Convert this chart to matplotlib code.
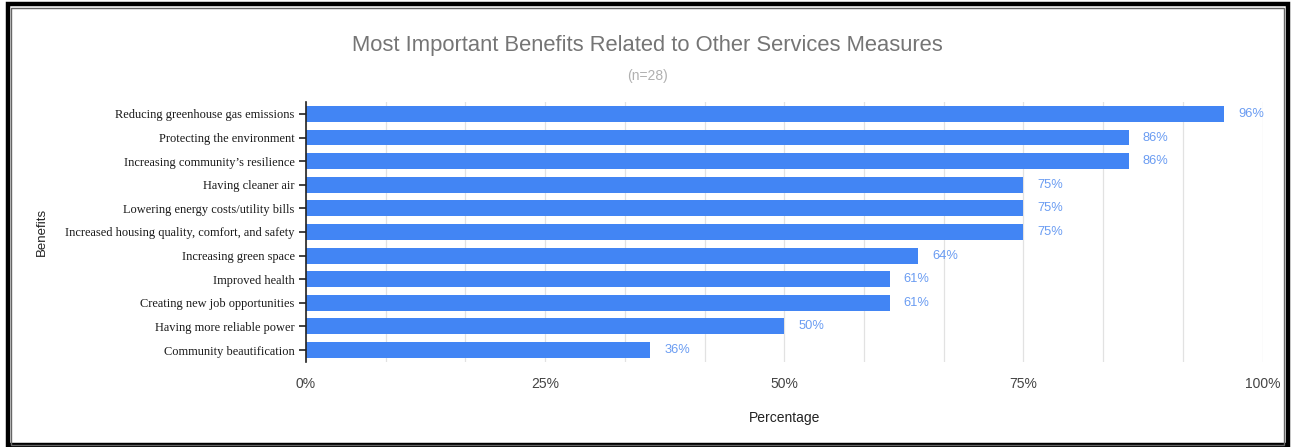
import matplotlib
matplotlib.use('Agg')
import matplotlib.pyplot as plt
from matplotlib.patches import Rectangle
from matplotlib.ticker import FixedLocator, FuncFormatter

# data
benefits = [
    "Reducing greenhouse gas emissions",
    "Protecting the environment",
    "Increasing community\u2019s resilience",
    "Having cleaner air",
    "Lowering energy costs/utility bills",
    "Increased housing quality, comfort, and safety",
    "Increasing green space",
    "Improved health",
    "Creating new job opportunities",
    "Having more reliable power",
    "Community beautification",
]
percent = [96, 86, 86, 75, 75, 75, 64, 61, 61, 50, 36]
x_ticks = [0, 25, 50, 75, 100]

bar_color = '#4285f4'
label_color = '#6a9cf2'

fig = plt.figure(figsize=(12.91, 4.47), dpi=100)
ax = fig.add_axes([0.237, 0.1906, 0.741, 0.5808])

y = list(range(len(benefits)))
ax.barh(y, percent, height=0.67, color=bar_color, zorder=3)
for yi, v in zip(y, percent):
    ax.annotate(f'{v}%', xy=(v, yi), xytext=(10, 0), textcoords='offset points',
                ha='left', va='center', fontsize=9.3, color=label_color,
                family='Liberation Sans')

ax.set_xlim(0, 100)
ax.set_ylim(len(benefits) - 0.5, -0.5)
ax.set_yticks(y)
ax.set_yticklabels(benefits, family='Liberation Serif', fontsize=8.9, color='#1a1a1a')
ax.xaxis.set_major_locator(FixedLocator(x_ticks))
ax.xaxis.set_major_formatter(FuncFormatter(lambda v, p: f'{v:.0f}%'))
ax.xaxis.set_minor_locator(FixedLocator([i * 100 / 12 for i in range(13)]))
for t in ax.get_xticklabels():
    t.set_family('Liberation Sans')
    t.set_fontsize(10)
    t.set_color('#444444')
ax.tick_params(axis='x', which='both', length=0, pad=11)
ax.tick_params(axis='y', direction='inout', length=10, width=1.2, color='#222222', pad=3)
ax.grid(axis='x', which='minor', color='#e2e2e2', linewidth=0.9, zorder=0)
ax.grid(axis='x', which='major', color='#e2e2e2', linewidth=0.9, zorder=0)

for s in ['top', 'right', 'bottom']:
    ax.spines[s].set_visible(False)
ax.spines['left'].set_color('#222222')
ax.spines['left'].set_linewidth(1.2)
ax.spines['left'].set_zorder(4)

ax.set_xlabel('Percentage', family='Liberation Sans', fontsize=10, color='#222222', labelpad=14)
ax.set_ylabel('Benefits', family='Liberation Sans', fontsize=9.5, color='#222222')
ax.yaxis.set_label_coords(-0.27, 0.5)

fig.text(0.5015, 0.898, 'Most Important Benefits Related to Other Services Measures',
         ha='center', va='center', fontsize=15.8, color='#757575', family='Liberation Sans')
fig.text(0.5015, 0.83, '(n=28)', ha='center', va='center', fontsize=10,
         color='#b0b0b0', family='Liberation Sans')

# frame around the picture
fig.patches.append(Rectangle((0.0062, 0.0045), 0.9915, 0.9865, transform=fig.transFigure,
                             fill=False, edgecolor='black', linewidth=3.2))
fig.patches.append(Rectangle((0.0085, 0.004), 0.986, 0.9785, transform=fig.transFigure,
                             fill=False, edgecolor='#666666', linewidth=1.0))

fig.savefig('out.png', dpi=100)
